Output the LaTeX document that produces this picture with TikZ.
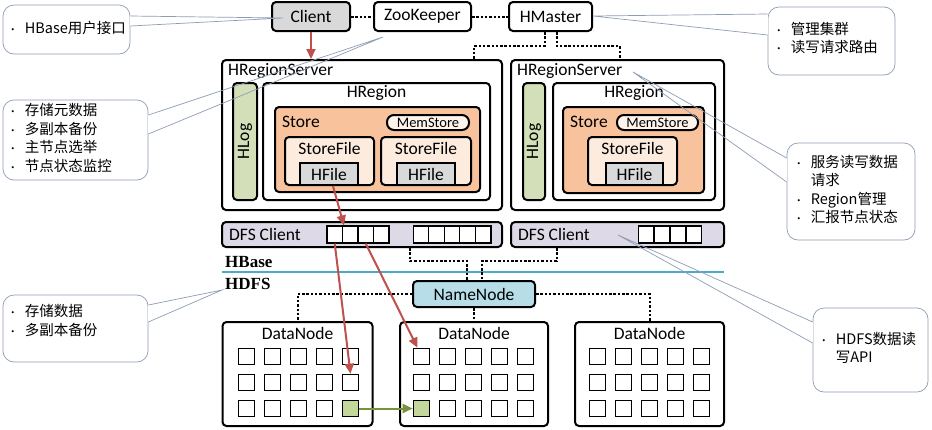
\documentclass[tikz,border=0pt]{standalone}
\usepackage{fontspec}
\setmainfont{Carlito}
\newfontfamily\cjk{Noto Sans CJK SC}
\newfontfamily\hdfont{Liberation Serif}
\usetikzlibrary{arrows.meta}

\definecolor{clgray}{HTML}{D9D9D9}
\definecolor{loggreen}{HTML}{D3DFB8}
\definecolor{storeor}{HTML}{F8C39C}
\definecolor{sfpeach}{HTML}{FDEBDD}
\definecolor{memfill}{HTML}{FFF4EC}
\definecolor{dfslav}{HTML}{DDD9E6}
\definecolor{nnblue}{HTML}{B7DEE8}
\definecolor{sepblue}{HTML}{4BACC6}
\definecolor{arrred}{HTML}{C0504D}
\definecolor{arrgreen}{HTML}{77933C}
\definecolor{blkgreen}{HTML}{C3D69B}
\definecolor{callgray}{HTML}{8E9DB5}

\newcommand\cbul{{\fontsize{10}{10}\selectfont •}}

\tikzset{
  txt/.style={font=\fontsize{17.5}{20}\selectfont, inner sep=0pt},
  box/.style={draw, line width=2pt, rounded corners=4pt, inner sep=0pt, txt},
  cell/.style={draw, line width=1.1pt, fill=white, inner sep=0pt, minimum width=15.5pt, minimum height=17pt},
  blk/.style={draw, line width=1.1pt, fill=white, inner sep=0pt, minimum size=16.5pt},
  link/.style={line width=2pt, dash pattern=on 2.5pt off 1.8pt},
  rarrow/.style={draw=arrred, line width=2pt, -{Triangle[length=10pt,width=9pt]}, arrred},
  garrow/.style={draw=arrgreen, line width=2pt, -{Triangle[length=10pt,width=9pt]}, arrgreen},
  callout/.style={draw=callgray, line width=0.7pt, rounded corners=11pt, inner sep=0pt},
  ctext/.style={font=\cjk\fontsize{14.5}{18.5}\selectfont, inner sep=0pt, align=left},
  pointer/.style={draw=callgray, line width=0.7pt}
}

\begin{document}
\begin{tikzpicture}[x=1pt,y=-1pt]
  \useasboundingbox [fill=white] (0,0) rectangle (932,429);

  % top row
  \node [box, fill=clgray, minimum width=78pt, minimum height=29pt] (cl) at (311,16.5) {Client};
  \node [box, fill=white, minimum width=97pt, minimum height=29pt] (zk) at (422.5,16.5) {ZooKeeper};
  \node [box, fill=white, minimum width=83pt, minimum height=29pt] (hm) at (550.5,16.5) {HMaster};
  \draw [link] (cl.east) -- (zk.west);
  \draw [link] (zk.east) -- (hm.west);

  % region servers
  \node [box, minimum width=280pt, minimum height=150pt] (rs1) at (362,135) {};
  \node [box, minimum width=213pt, minimum height=150pt] (rs2) at (617.5,135) {};
  \node [txt, anchor=west] (rs1l) at ([xshift=7pt,yshift=-12pt]rs1.north west) {HRegionServer};
  \node [txt, anchor=west] (rs2l) at ([xshift=7pt,yshift=-12pt]rs2.north west) {HRegionServer};
  \draw [link] ([xshift=-6pt]hm.south) |- ([xshift=-29pt,yshift=13pt]rs1.north east) -- ([xshift=-29pt]rs1.north east);
  \draw [link] ([xshift=6pt]hm.south) |- ([xshift=2pt,yshift=13pt]rs2.north) -- ([xshift=2pt]rs2.north);
  \draw [rarrow] (cl.south) -- (cl.south |- rs1.north);

  % left server
  \node [box, fill=loggreen, minimum width=24pt, minimum height=117pt] (hl1) at (245,141.5) {};
  \node [txt, rotate=90] (hl1l) at (hl1) {HLog};
  \node [box, fill=white, minimum width=227pt, minimum height=117pt] (hr1) at (376.5,141.5) {};
  \node [txt] (hr1l) at ([yshift=-11pt]hr1.north) {HRegion};
  \node [box, fill=storeor, minimum width=205pt, minimum height=85pt] (st1) at (377.5,149.5) {};
  \node [txt, anchor=west] (st1l) at (282,122) {Store};
  \node [box, fill=memfill, rounded corners=7pt, minimum width=82pt, minimum height=15pt, font=\fontsize{14.5}{16}\selectfont] (ms1) at (428,122.5) {MemStore};
  \node [box, fill=sfpeach, minimum width=89pt, minimum height=48pt] (sf1a) at (329.5,161) {};
  \node [txt] (sf1al) at ([yshift=-12pt]sf1a.north) {StoreFile};
  \node [box, fill=clgray, rounded corners=0pt, minimum width=58pt, minimum height=22pt] (hf1a) at (329,174) {HFile};
  \node [box, fill=sfpeach, minimum width=90pt, minimum height=48pt] (sf1b) at (426,161) {};
  \node [txt] (sf1bl) at ([yshift=-12pt]sf1b.north) {StoreFile};
  \node [box, fill=clgray, rounded corners=0pt, minimum width=58pt, minimum height=22pt] (hf1b) at (426,174) {HFile};

  % right server
  \node [box, fill=loggreen, minimum width=22pt, minimum height=117pt] (hl2) at (534,141.5) {};
  \node [txt, rotate=90] (hl2l) at (hl2) {HLog};
  \node [box, fill=white, minimum width=162pt, minimum height=117pt] (hr2) at (634,141.5) {};
  \node [txt] (hr2l) at ([yshift=-11pt]hr2.north) {HRegion};
  \node [box, fill=storeor, minimum width=141pt, minimum height=86pt] (st2) at (633.5,150) {};
  \node [txt, anchor=west] (st2l) at (570,122) {Store};
  \node [box, fill=memfill, rounded corners=7pt, minimum width=81pt, minimum height=15pt, font=\fontsize{14.5}{16}\selectfont] (ms2) at (657.5,122.5) {MemStore};
  \node [box, fill=sfpeach, minimum width=89pt, minimum height=48pt] (sf2) at (632.5,161) {};
  \node [txt] (sf2l) at ([yshift=-12pt]sf2.north) {StoreFile};
  \node [box, fill=clgray, rounded corners=0pt, minimum width=57pt, minimum height=22pt] (hf2) at (634.5,174) {HFile};

  % DFS clients
  \node [box, fill=dfslav, minimum width=280pt, minimum height=25pt] (dfs1) at (362,234.5) {};
  \node [txt, anchor=west] (dfs1l) at ([xshift=8pt]dfs1.west) {DFS Client};
  \node [box, fill=dfslav, minimum width=213pt, minimum height=25pt] (dfs2) at (617.5,234.5) {};
  \node [txt, anchor=west] (dfs2l) at ([xshift=8pt]dfs2.west) {DFS Client};
  \foreach \i in {1,...,4}
    \node [cell] (a\i) at ({334.75+15.5*(\i-1)},234.5) {};
  \foreach \i in {1,...,5}
    \node [cell] (b\i) at ({420.8+15.6*(\i-1)},234.5) {};
  \foreach \i in {1,...,4}
    \node [cell] (e\i) at ({646+16*(\i-1)},234.5) {};

  % HBase / HDFS
  \draw [sepblue, line width=1.8pt] (222,272) -- (724,272);
  \node [anchor=west, inner sep=0pt, font=\hdfont\bfseries\fontsize{17}{18}\selectfont] (hb) at (225,262) {HBase};
  \node [anchor=west, inner sep=0pt, font=\hdfont\bfseries\fontsize{17}{18}\selectfont] (hd) at (225,284) {HDFS};

  % NameNode and DataNodes
  \node [box, fill=nnblue, minimum width=122pt, minimum height=26pt] (nn) at (474,294) {NameNode};
  \draw [link] ([xshift=48pt]dfs1.south) |- ([xshift=-7pt,yshift=19pt]nn.north) -- ([xshift=-7pt]nn.north);
  \draw [link] ([xshift=-61pt]dfs2.south) |- ([xshift=8pt,yshift=19pt]nn.north) -- ([xshift=8pt]nn.north);
  \node [box, minimum width=150pt, minimum height=104pt] (dn1) at (297.5,374) {};
  \node [box, minimum width=148pt, minimum height=104pt] (dn2) at (474,374) {};
  \node [box, minimum width=149pt, minimum height=104pt] (dn3) at (649.5,374) {};
  \node [txt] (dn1l) at ([yshift=-12pt]dn1.north) {DataNode};
  \node [txt] (dn2l) at ([yshift=-12pt]dn2.north) {DataNode};
  \node [txt] (dn3l) at ([yshift=-12pt]dn3.north) {DataNode};
  \draw [link] (nn.west) -| (dn1.north);
  \draw [link] (nn.east) -| (dn3.north);
  \draw [link] (nn.south) -- (dn2.north);
  \foreach \d/\x in {1/246.5,2/421.5,3/597.5}
    \foreach \r in {1,2,3}
      \foreach \c in {1,...,5}
        \node [blk] (d\d-\r-\c) at ({\x+26*(\c-1)},{356.5+26*(\r-1)}) {};
  \node [blk, fill=blkgreen] (g1) at (d1-3-5) {};
  \node [blk, fill=blkgreen] (g2) at (d2-3-1) {};

  % data flow
  \draw [rarrow] ([xshift=4pt]hf1a.south) -- ([xshift=2pt]a2.north west);
  \draw [rarrow] (a1.south) -- (d1-2-5.north);
  \draw [rarrow] (a3.south) -- ([xshift=-4pt]d2-1-1.north);
  \draw [garrow] (g1.east) -- (g2.west);

  % callouts
  \node [callout, minimum width=127pt, minimum height=49pt] (c1) at (66.5,29.5) {};
  \node [ctext, anchor=west] (c1t) at ([xshift=5pt]c1.west) {\begin{tabular}{@{}l@{\hspace{7pt}}l@{}}\cbul&HBase用户接口\end{tabular}};
  \node [callout, minimum width=145pt, minimum height=80pt] (c2) at (75.5,140) {};
  \node [ctext, anchor=west] (c2t) at ([xshift=5pt]c2.west) {\begin{tabular}{@{}l@{\hspace{7pt}}l@{}}\cbul&存储元数据\\\cbul&多副本备份\\\cbul&主节点选举\\\cbul&节点状态监控\end{tabular}};
  \node [callout, minimum width=127pt, minimum height=68pt] (c3) at (831.5,41) {};
  \node [ctext, anchor=west] (c3t) at ([xshift=6pt,yshift=1pt]c3.west) {\begin{tabular}{@{}l@{\hspace{7pt}}l@{}}\cbul&管理集群\\\cbul&读写请求路由\end{tabular}};
  \node [callout, minimum width=128pt, minimum height=97pt] (c4) at (851,191.5) {};
  \node [ctext, anchor=west] (c4t) at ([xshift=7pt]c4.west) {\begin{tabular}{@{}l@{\hspace{7pt}}l@{}}\cbul&服务读写数据\\&请求\\\cbul&Region管理\\\cbul&汇报节点状态\end{tabular}};
  \node [callout, minimum width=145pt, minimum height=67pt] (c5) at (75.5,328.5) {};
  \node [ctext, anchor=west] (c5t) at ([xshift=5pt,yshift=6pt]c5.west) {\begin{tabular}{@{}l@{\hspace{7pt}}l@{}}\cbul&存储数据\\\cbul&多副本备份\end{tabular}};
  \node [callout, minimum width=115pt, minimum height=84pt] (c6) at (870.5,350) {};
  \node [ctext, anchor=west] (c6t) at ([xshift=6pt]c6.west) {\begin{tabular}{@{}l@{\hspace{7pt}}l@{}}\cbul&HDFS数据读\\&写API\end{tabular}};

  % pointers
  \coordinate (t1) at (283,18);
  \coordinate (t2) at (383,37);
  \coordinate (t3) at (593,16);
  \coordinate (t4) at (633,72);
  \coordinate (t5) at (222,290);
  \coordinate (t6) at (618,235);
  \foreach \c/\t/\ya/\yb in {c1/t1/16/26, c2/t2/115/134, c5/t5/305/322} {
    \draw [white, line width=1.4pt] (\c.east |- 0,\ya) -- (\c.east |- 0,\yb);
    \draw [pointer] (\c.east |- 0,\ya) -- (\t) -- (\c.east |- 0,\yb);
  }
  \foreach \c/\t/\ya/\yb in {c3/t3/14/35, c4/t4/158/182, c6/t6/322/343} {
    \draw [white, line width=1.4pt] (\c.west |- 0,\ya) -- (\c.west |- 0,\yb);
    \draw [pointer] (\c.west |- 0,\ya) -- (\t) -- (\c.west |- 0,\yb);
  }
\end{tikzpicture}
\end{document}
